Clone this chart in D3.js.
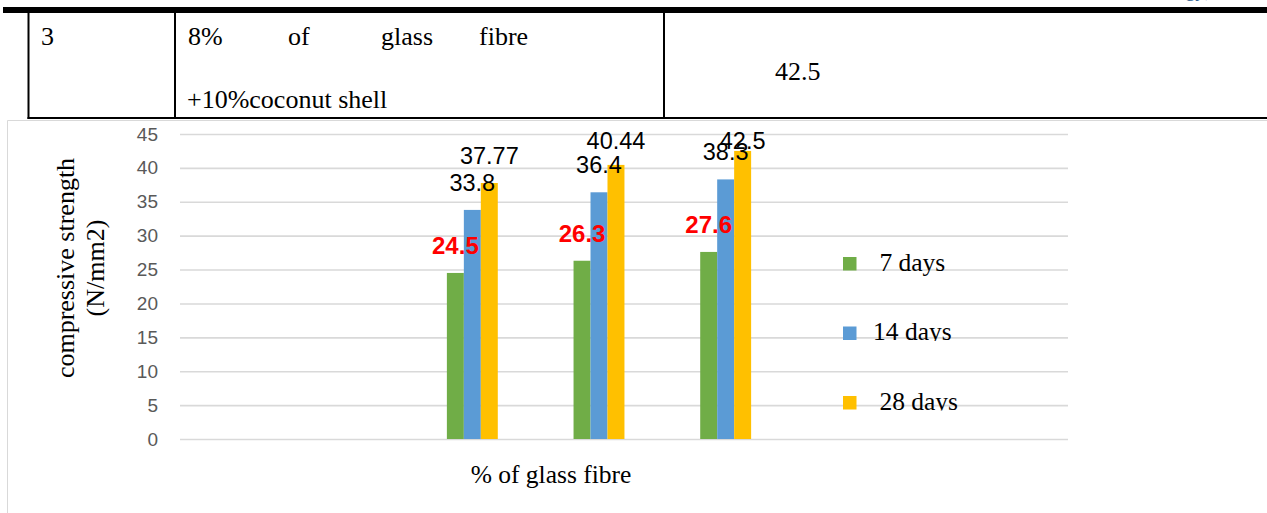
<!DOCTYPE html>
<html>
<head>
<meta charset="utf-8">
<script src="https://cdn.jsdelivr.net/npm/d3@7"></script>
<style>
  html, body { margin: 0; padding: 0; background: #ffffff; }
  svg { display: block; }
</style>
</head>
<body>
<svg id="chart" width="1267" height="513"></svg>
<script>
// ---- data ----
const categories = ["Mix 1", "Mix 2", "Mix 3"];
const seriesNames = ["7 days", "14 days", "28 days"];
const legendLabels = [" 7 days", "14 days", " 28 days"];
const days7 = [24.5, 26.3, 27.6];
const days14 = [33.8, 36.4, 38.3];
const days28 = [37.77, 40.44, 42.5];
const yTicks = [0, 5, 10, 15, 20, 25, 30, 35, 40, 45];
const seriesColors = ["#70AD47", "#5B9BD5", "#FFC000"];
const labelColors = ["#FF0000", "#000000", "#000000"];
const labelWeights = ["bold", "normal", "normal"];

// table row above the chart
const rowNumber = "3";
const mixWords = ["8%", "of", "glass", "fibre"];
const mixSecondLine = "+10%coconut shell";
const rowResult = "42.5";

const yTitleLines = ["compressive strength", "(N/mm2)"];
const xTitle = "% of glass fibre";

const SERIF = "'Liberation Serif', 'Times New Roman', serif";
const SANS = "'Liberation Sans', Arial, sans-serif";

const series = seriesNames.map((name, i) => ({
  name, color: seriesColors[i], values: [days7, days14, days28][i]
}));

const svg = d3.select("#chart");
const W = 1267, H = 513;

// ---- table row ----
const table = svg.append("g");
table.append("rect").attr("x", 3).attr("y", 7).attr("width", W - 3).attr("height", 6).attr("fill", "#000");
[28.5, 175, 664].forEach(x => {
  table.append("line").attr("x1", x).attr("x2", x).attr("y1", 12).attr("y2", 119)
    .attr("stroke", "#000").attr("stroke-width", 2);
});
table.append("line").attr("x1", 27.5).attr("x2", W).attr("y1", 118).attr("y2", 118)
  .attr("stroke", "#000").attr("stroke-width", 2);

const tFont = 26;
const tText = (x, yy, s) => table.append("text").attr("font-family", SERIF)
  .attr("x", x).attr("y", yy).attr("font-size", tFont).text(s);
tText(41, 45, rowNumber);
const wordX = [188, 288, 381, 479];
mixWords.forEach((w, i) => tText(wordX[i], 45, w));
tText(187, 108, mixSecondLine);
tText(775, 80, rowResult);

// running header from the page above, mostly out of view
svg.append("text").attr("font-family", SERIF).attr("x", 1212).attr("y", -4)
  .attr("text-anchor", "end").attr("font-size", 20).attr("fill", "#2F5F8F")
  .text("Technology)");

// ---- chart frame ----
svg.append("path").attr("d", `M7.5,${H} V120.5 H${W}`)
  .attr("fill", "none").attr("stroke", "#D9D9D9").attr("stroke-width", 1);

// ---- scales ----
const gridLeft = 180, gridRight = 1068;
const y = d3.scaleLinear().domain([0, 45]).range([439, 134]);
const x0 = d3.scaleBand().domain(categories).range([409, 789])
  .paddingInner(0.598).paddingOuter(0.299);
const x1 = d3.scaleBand().domain(seriesNames).range([0, x0.bandwidth()]);

// ---- y axis with gridlines ----
const yAxis = d3.axisLeft(y).tickValues(yTicks)
  .tickSizeInner(-(gridRight - gridLeft)).tickSizeOuter(0).tickPadding(22);
const ax = svg.append("g").attr("transform", `translate(${gridLeft},0)`).call(yAxis);
ax.select(".domain").remove();
ax.selectAll(".tick line").attr("stroke", "#D9D9D9").attr("stroke-width", 1.6);
ax.attr("font-family", SANS).attr("font-size", 19);
ax.selectAll(".tick text").attr("fill", "#595959");

// ---- bars ----
const groups = svg.append("g").selectAll("g").data(categories).join("g")
  .attr("transform", d => `translate(${x0(d)},0)`);

groups.selectAll("rect")
  .data((c, ci) => series.map(s => ({ s, v: s.values[ci] })))
  .join("rect")
  .attr("x", d => x1(d.s.name))
  .attr("width", x1.bandwidth())
  .attr("y", d => y(d.v))
  .attr("height", d => y(0) - y(d.v))
  .attr("fill", d => d.s.color);

// ---- value labels (kept inside the top of the plot) ----
const labelTopLimit = y(45) + 15;
groups.selectAll("text.val")
  .data((c, ci) => series.map((s, si) => ({ s, si, v: s.values[ci] })))
  .join("text")
  .attr("class", "val")
  .attr("font-family", SANS)
  .attr("x", d => x1(d.s.name) + x1.bandwidth() / 2)
  .attr("y", d => Math.max(y(d.v) - 19, labelTopLimit))
  .attr("text-anchor", "middle")
  .attr("font-size", d => d.si === 0 ? 24 : 23.5)
  .attr("font-weight", d => labelWeights[d.si])
  .attr("fill", d => labelColors[d.si])
  .text(d => d.v);

// ---- legend ----
const legend = svg.append("g").attr("transform", "translate(843,257)");
const defs = svg.append("defs");
series.forEach((s, i) => {
  const top = i * 69.5;
  const item = legend.append("g");
  if (i > 0) {
    defs.append("clipPath").attr("id", "legclip" + i)
      .append("rect").attr("x", -10).attr("y", top - 40).attr("width", 200).attr("height", 54.5);
    item.attr("clip-path", `url(#legclip${i})`);
  }
  item.append("rect").attr("x", 0).attr("y", top).attr("width", 13.5).attr("height", 13.5)
    .attr("fill", s.color);
  item.append("text").attr("font-family", SERIF).attr("x", 30).attr("y", top + 13.5)
    .attr("font-size", 25.5).style("white-space", "pre").text(legendLabels[i]);
});

// ---- axis titles ----
yTitleLines.forEach((line, i) => {
  svg.append("text").attr("font-family", SERIF)
    .attr("transform", `translate(${74 + i * 30},268) rotate(-90)`)
    .attr("text-anchor", "middle").attr("font-size", 26).text(line);
});
svg.append("text").attr("font-family", SERIF).attr("x", 551).attr("y", 483)
  .attr("text-anchor", "middle").attr("font-size", 25.5).text(xTitle);
</script>
</body>
</html>
